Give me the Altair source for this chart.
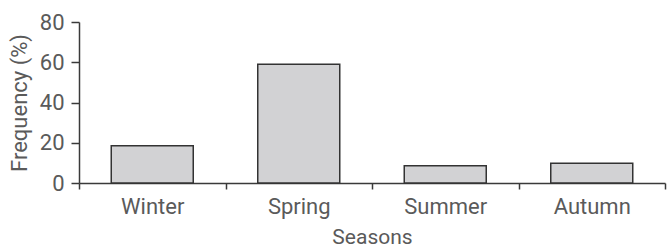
import altair as alt
import pandas as pd

seasons = ["Winter", "Spring", "Summer", "Autumn"]
frequency = [18.5, 59, 8.6, 9.8]

df = pd.DataFrame({"Season": seasons, "Frequency": frequency})

FONT = "Roboto"
TXT = "#5a5a5a"
AX = "#3a3a3a"

chart = alt.Chart(df).mark_bar(
    width=82, fill="#d2d2d4", stroke="#333333", strokeWidth=1.5
).encode(
    x=alt.X("Season:N", sort=seasons,
            scale=alt.Scale(paddingInner=0, paddingOuter=0),
            axis=alt.Axis(title="Seasons", labelAngle=0, tickBand="extent",
                          tickSize=6, labelPadding=7, titlePadding=9,
                          labelFontSize=22, titleFontSize=21)),
    y=alt.Y("Frequency:Q", scale=alt.Scale(domain=[0, 80]),
            axis=alt.Axis(title="Frequency (%)", values=[0, 20, 40, 60, 80],
                          tickSize=8, labelPadding=7, titlePadding=8,
                          labelFontSize=22, titleFontSize=22, grid=False)),
).properties(
    width=586, height=161,
    autosize=alt.AutoSizeParams(type="none"),
    padding={"left": 79, "top": 22, "right": 6, "bottom": 65},
).configure_axis(
    labelFont=FONT, titleFont=FONT, labelColor=TXT, titleColor=TXT,
    titleFontWeight="normal", domainColor=AX, tickColor=AX,
    domainWidth=1.5, tickWidth=1.5,
).configure_view(stroke=None)

chart.save("out.html", embed_options={"renderer": "svg", "actions": False})
